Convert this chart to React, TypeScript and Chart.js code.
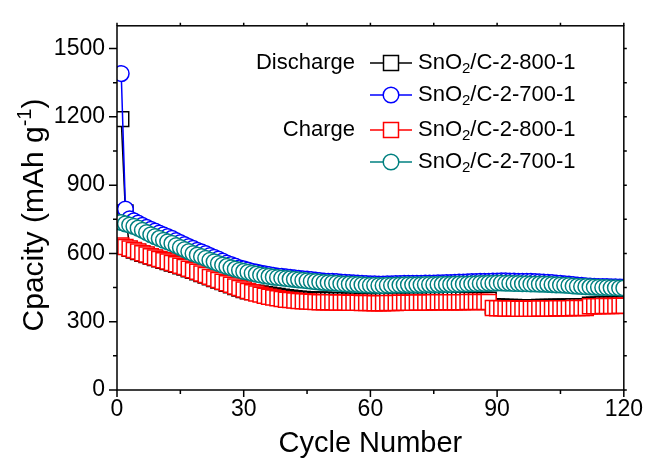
import { useEffect, useRef } from "react";
import { Chart, registerables } from "chart.js";

Chart.register(...registerables);

const FONT = "'Liberation Sans', Arial, sans-serif";

// x categories: cycle numbers 1..120
const cycles: number[] = Array.from({ length: 120 }, (_, i) => i + 1);

// Discharge, SnO2/C-2-800-1 (black squares)
const discharge800 = [
  1190, 780, 620, 613, 606, 599, 593, 586, 580, 574,
  568, 562, 556, 550, 544, 538, 531, 524, 517, 510,
  503, 495, 488, 481, 474, 467, 460, 453, 446, 439,
  434, 430, 427, 424, 421, 418, 415, 413, 410, 407,
  405, 403, 401, 400, 399, 398, 397, 396, 396, 395,
  395, 394, 394, 394, 393, 393, 393, 392, 392, 392,
  391, 391, 391, 392, 392, 392, 393, 393, 393, 393,
  394, 394, 394, 394, 395, 395, 395, 395, 396, 396,
  396, 396, 397, 397, 397, 397, 397, 397, 368, 367,
  366, 365, 365, 365, 364, 364, 364, 364, 364, 365,
  365, 365, 365, 366, 366, 366, 366, 367, 367, 367,
  367, 375, 375, 375, 376, 376, 376, 376, 377, 377,
];

// Discharge, SnO2/C-2-700-1 (blue circles)
const discharge700 = [
  1390, 795, 752, 743, 733, 724, 715, 706, 698, 690,
  682, 674, 666, 657, 648, 639, 630, 622, 614, 607,
  600, 591, 583, 575, 567, 558, 551, 544, 537, 532,
  527, 522, 518, 514, 510, 507, 504, 501, 499, 497,
  495, 493, 491, 489, 487, 485, 483, 481, 479, 478,
  477, 476, 474, 473, 472, 471, 470, 469, 468, 467,
  467, 466, 466, 467, 467, 468, 468, 469, 469, 469,
  469, 469, 470, 470, 470, 471, 471, 472, 472, 473,
  474, 474, 475, 476, 476, 477, 478, 478, 479, 479,
  480, 480, 479, 479, 478, 478, 477, 477, 476, 475,
  474, 473, 472, 470, 469, 467, 465, 463, 461, 460,
  458, 457, 456, 455, 454, 454, 453, 453, 452, 452,
];

// Charge, SnO2/C-2-800-1 (red squares)
const charge800 = [
  635, 628, 622, 615, 608, 601, 595, 588, 582, 576,
  570, 564, 558, 552, 546, 540, 533, 526, 519, 512,
  505, 497, 490, 483, 476, 469, 462, 455, 448, 441,
  435, 429, 424, 419, 414, 410, 406, 403, 400, 397,
  395, 393, 391, 390, 389, 388, 387, 386, 386, 385,
  385, 384, 384, 384, 383, 383, 383, 382, 382, 382,
  381, 381, 381, 382, 382, 382, 383, 383, 383, 383,
  384, 384, 384, 384, 385, 385, 385, 385, 386, 386,
  386, 386, 387, 387, 387, 387, 387, 387, 360, 359,
  359, 358, 358, 358, 357, 357, 357, 357, 357, 358,
  358, 358, 358, 359, 359, 359, 359, 360, 360, 360,
  360, 368, 368, 368, 369, 369, 369, 369, 370, 370,
];

// Charge, SnO2/C-2-700-1 (teal circles)
const charge700 = [
  736, 730, 725, 719, 711, 702, 692, 682, 674, 666,
  658, 651, 644, 635, 626, 617, 608, 600, 593, 586,
  579, 570, 563, 556, 549, 543, 537, 531, 526, 521,
  517, 513, 509, 505, 502, 499, 496, 494, 492, 490,
  488, 486, 484, 482, 480, 478, 476, 474, 472, 471,
  470, 469, 467, 466, 465, 464, 463, 462, 461, 460,
  460, 459, 459, 460, 460, 461, 461, 462, 462, 462,
  462, 462, 463, 463, 463, 463, 464, 464, 464, 465,
  465, 466, 466, 467, 467, 468, 468, 469, 469, 470,
  470, 469, 469, 468, 468, 467, 467, 466, 466, 465,
  465, 464, 463, 462, 461, 460, 459, 457, 456, 455,
  454, 453, 452, 451, 450, 450, 449, 449, 448, 448,
];

const xMin = 0;
const xMax = 120;
const xMajorStep = 30;
const xMinorStep = 15;
const yMin = 0;
const yMax = 1600;
const yMajorStep = 300;
const yMinorStep = 150;

const xTitle = "Cycle Number";
const yTitleMain = "Cpacity (mAh g";
const yTitleSup = "-1";
const yTitleEnd = ")";

const groupLabels = ["Discharge", "", "Charge", ""];
const seriesNames = ["SnO2/C-2-800-1", "SnO2/C-2-700-1", "SnO2/C-2-800-1", "SnO2/C-2-700-1"];
const seriesColors = ["#000000", "#0000ff", "#ff0000", "#008080"];
const seriesStyles = ["rect", "circle", "rect", "circle"];
const seriesData = [discharge800, discharge700, charge800, charge700];
const drawOrder = [4, 3, 2, 1];

const RECT_R = 10.6;
const CIRC_R = 7.8;

function toPoints(vals: number[]) {
  return vals.map((v, i) => ({ x: cycles[i], y: v }));
}

function drawSubText(ctx: CanvasRenderingContext2D, text: string, x: number, y: number, size: number) {
  // renders "SnO2/..." with the digit after "SnO" as subscript
  const idx = text.indexOf("O2");
  const a = text.slice(0, idx + 1);
  const sub = text.slice(idx + 1, idx + 2);
  const b = text.slice(idx + 2);
  ctx.font = `${size}px ${FONT}`;
  ctx.fillText(a, x, y);
  let cx = x + ctx.measureText(a).width;
  ctx.font = `${Math.round(size * 0.68)}px ${FONT}`;
  ctx.fillText(sub, cx, y + 6);
  cx += ctx.measureText(sub).width;
  ctx.font = `${size}px ${FONT}`;
  ctx.fillText(b, cx, y);
}

const decorPlugin = {
  id: "decor",
  afterDatasetsDraw(chart: any) {
    const { ctx, chartArea } = chart;
    const { left, right, top, bottom } = chartArea;
    const xs = chart.scales.x;
    const ys = chart.scales.y;
    ctx.save();
    ctx.strokeStyle = "#000";
    ctx.lineWidth = 1.5;
    ctx.beginPath();
    for (let v = xMin; v <= xMax; v += xMinorStep) {
      const px = xs.getPixelForValue(v);
      const major = v % xMajorStep === 0;
      ctx.moveTo(px, bottom);
      ctx.lineTo(px, bottom + (major ? 7 : 4));
      ctx.moveTo(px, top);
      ctx.lineTo(px, top - 3);
    }
    for (let v = yMin; v < yMax; v += yMinorStep) {
      const py = ys.getPixelForValue(v);
      const major = v % yMajorStep === 0;
      ctx.moveTo(left, py);
      ctx.lineTo(left - (major ? 8 : 4), py);
      ctx.moveTo(right, py);
      ctx.lineTo(right + 3, py);
    }
    ctx.stroke();
    ctx.strokeRect(left, top, right - left, bottom - top);
    ctx.restore();
  },
  afterDraw(chart: any) {
    const { ctx, chartArea } = chart;
    ctx.save();
    ctx.fillStyle = "#000";
    // x title
    ctx.font = `29px ${FONT}`;
    ctx.textAlign = "center";
    ctx.textBaseline = "alphabetic";
    ctx.fillText(xTitle, (chartArea.left + chartArea.right) / 2, 452);
    // y title (rotated, with superscript)
    ctx.save();
    ctx.translate(43, 215);
    ctx.rotate(-Math.PI / 2);
    ctx.textAlign = "left";
    ctx.font = `30px ${FONT}`;
    const w1 = ctx.measureText(yTitleMain).width;
    const w3 = ctx.measureText(yTitleEnd).width;
    ctx.font = `20px ${FONT}`;
    const w2 = ctx.measureText(yTitleSup).width;
    const start = -(w1 + w2 + w3) / 2;
    ctx.font = `30px ${FONT}`;
    ctx.fillText(yTitleMain, start, 0);
    ctx.font = `20px ${FONT}`;
    ctx.fillText(yTitleSup, start + w1, -12);
    ctx.font = `30px ${FONT}`;
    ctx.fillText(yTitleEnd, start + w1 + w2, 0);
    ctx.restore();

    // legend
    const rows = [63, 95, 130, 162];
    const lineL = 370;
    const lineR = 412;
    const mx = 391;
    const textX = 418;
    ctx.textBaseline = "middle";
    for (let i = 0; i < rows.length; i++) {
      const ry = rows[i];
      if (groupLabels[i]) {
        ctx.textAlign = "right";
        ctx.font = `22px ${FONT}`;
        ctx.fillStyle = "#000";
        ctx.fillText(groupLabels[i], 355, ry);
      }
      ctx.strokeStyle = seriesColors[i];
      ctx.lineWidth = 1.5;
      ctx.beginPath();
      ctx.moveTo(lineL, ry);
      ctx.lineTo(lineR, ry);
      ctx.stroke();
      ctx.fillStyle = "#fff";
      ctx.beginPath();
      if (seriesStyles[i] === "rect") {
        const s = Math.SQRT1_2 * RECT_R;
        ctx.rect(mx - s, ry - s, 2 * s, 2 * s);
      } else {
        ctx.arc(mx, ry, CIRC_R, 0, Math.PI * 2);
      }
      ctx.fill();
      ctx.stroke();
      ctx.fillStyle = "#000";
      ctx.textAlign = "left";
      drawSubText(ctx, seriesNames[i], textX, ry, 22);
    }
    ctx.restore();
  },
};

export default function App() {
  const canvasRef = useRef<HTMLCanvasElement | null>(null);

  useEffect(() => {
    if (!canvasRef.current) return;
    Chart.defaults.font.family = FONT;
    const datasets = seriesData.map((vals, i) => ({
      label: `${i < 2 ? "Discharge" : "Charge"} ${seriesNames[i]}`,
      data: toPoints(vals),
      borderColor: seriesColors[i],
      backgroundColor: "#ffffff",
      pointBackgroundColor: "#ffffff",
      pointBorderColor: seriesColors[i],
      pointStyle: seriesStyles[i] as any,
      pointRadius: seriesStyles[i] === "rect" ? RECT_R : CIRC_R,
      pointBorderWidth: 1.5,
      borderWidth: 1.5,
      tension: 0,
      fill: false,
      order: drawOrder[i],
      clip: 0,
    }));
    const chart = new Chart(canvasRef.current, {
      type: "line",
      data: { datasets },
      options: {
        animation: false,
        responsive: false,
        devicePixelRatio: 1,
        layout: { padding: { top: 16, right: 25, left: 0, bottom: 0 } },
        plugins: { legend: { display: false }, tooltip: { enabled: false } },
        scales: {
          x: {
            type: "linear",
            min: xMin,
            max: xMax,
            grid: { display: false, drawTicks: false },
            border: { display: false },
            ticks: {
              stepSize: xMajorStep,
              includeBounds: false,
              color: "#000",
              padding: 6,
              maxRotation: 0,
              font: { size: 23, family: FONT },
              callback: (v: any) => String(v),
            },
            afterFit: (s: any) => {
              s.height = 71;
            },
          },
          y: {
            type: "linear",
            min: yMin,
            max: yMax,
            grid: { display: false, drawTicks: false },
            border: { display: false },
            ticks: {
              stepSize: yMajorStep,
              includeBounds: false,
              color: "#000",
              padding: 12,
              font: { size: 23, family: FONT },
              callback: (v: any) => String(v),
            },
            afterFit: (s: any) => {
              s.width = 117;
            },
          },
        },
      },
      plugins: [decorPlugin],
    });
    return () => chart.destroy();
  }, []);

  return (
    <div style={{ position: "fixed", left: 0, top: 0, width: 649, height: 461, background: "#fff" }}>
      <canvas ref={canvasRef} width={649} height={461} style={{ display: "block" }} />
    </div>
  );
}
